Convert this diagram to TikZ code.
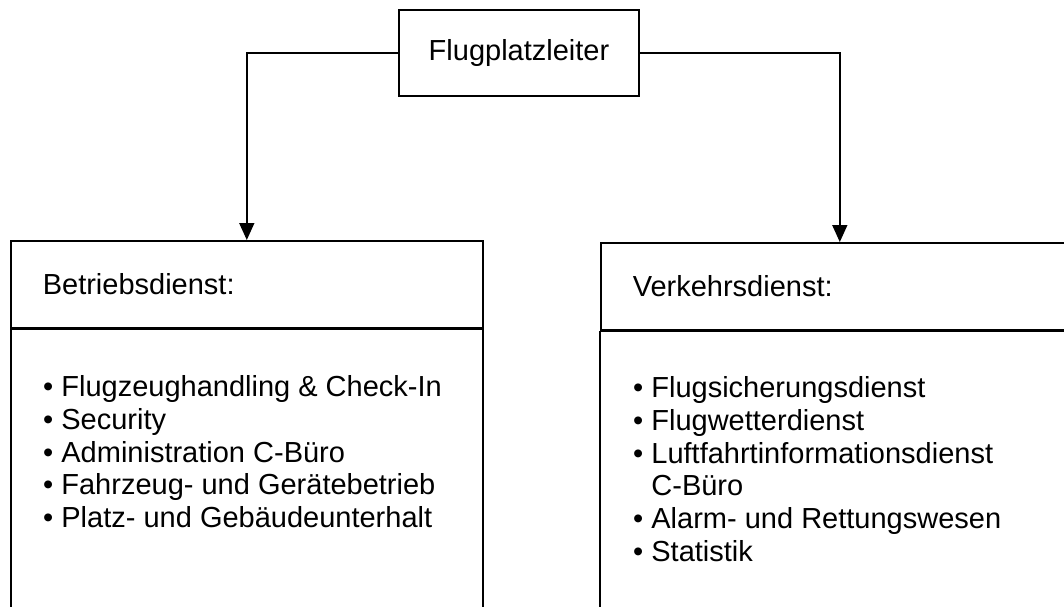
\documentclass[tikz,border=0pt]{standalone}
\usepackage{fontspec}
\setmainfont{Liberation Sans}
\usetikzlibrary{positioning,arrows.meta}
\tikzset{
  topBox/.style={rectangle, draw, line width=1.6pt, minimum width=240pt, minimum height=86pt},
  headBox/.style={rectangle, draw, line width=1.6pt, anchor=north west, minimum height=87pt, inner xsep=32pt, inner ysep=0pt, align=left},
  bodyBox/.style={rectangle, draw, line width=1.6pt, minimum height=330pt},
  itemList/.style={align=left, inner sep=0pt, anchor=north west},
  orgLink/.style={line width=1.6pt, -{Triangle[length=17pt,width=15pt]}}
}

\begin{document}
\begin{tikzpicture}[x=1pt, y=-1pt, font={\fontsize{29pt}{32.7pt}\selectfont}]

      \useasboundingbox (0,0) rectangle (1064,606);
      \clip (0,0) rectangle (1064,606);

      \node[topBox] (leiter) at (519,53) {Flugplatzleiter};

      % Betriebsdienst
      \node[headBox, text width=408pt] (betriebHead) at (10,240) {Betriebsdienst:};
      \node[bodyBox, minimum width=472pt, below=0pt of betriebHead] (betriebBody) {};
      \node[itemList, below right=47pt and 33pt of betriebHead.south west] (betriebList) {%
        • Flugzeughandling \& Check-In\\
        • Security\\
        • Administration C-Büro\\
        • Fahrzeug- und Gerätebetrieb\\
        • Platz- und Gebäudeunterhalt};

      % Verkehrsdienst
      \node[headBox, text width=414pt] (verkehrHead) at (600,242) {Verkehrsdienst:};
      \node[bodyBox, minimum width=480pt, below=0pt of verkehrHead] (verkehrBody) {};
      \node[itemList, below right=46pt and 33pt of verkehrHead.south west] (verkehrList) {%
        • Flugsicherungsdienst\\
        • Flugwetterdienst\\
        • Luftfahrtinformationsdienst\\
        \phantom{• }C-Büro\\
        • Alarm- und Rettungswesen\\
        • Statistik};

      \draw[orgLink] (leiter.west) -| (betriebHead.north);
      \draw[orgLink] (leiter.east) -| (verkehrHead.north);

    \end{tikzpicture}
\end{document}
